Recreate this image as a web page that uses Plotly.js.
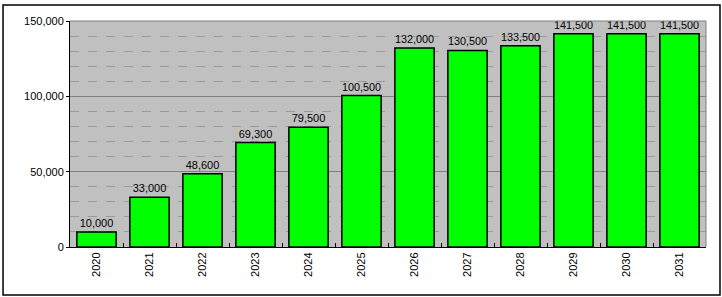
<!DOCTYPE html>
<html><head><meta charset="utf-8">
<script src="https://cdn.plot.ly/plotly-3.0.1.min.js"></script>
<style>html,body{margin:0;padding:0;background:#fff}#chart{width:722px;height:297px}</style>
</head><body><div id="chart"></div>
<script>
const years = ['2020','2021','2022','2023','2024','2025','2026','2027','2028','2029','2030','2031'];
const values = [10000, 33000, 48600, 69300, 79500, 100500, 132000, 130500, 133500, 141500, 141500, 141500];
const yTickVals = [0, 50000, 100000, 150000];
const yTickText = ['0', '50,000', '100,000', '150,000'];

const fontFam = 'Liberation Sans, Arial, sans-serif';
const trace = {
  type: 'bar', x: years, y: values,
  marker: {color: '#00ff00', line: {color: '#000', width: 1.5}},
  text: values.map(v => v.toLocaleString('en-US')),
  textposition: 'outside', cliponaxis: false,
  textfont: {family: fontFam, size: 11, color: '#000'},
  hoverinfo: 'none'
};
const layout = {
  width: 722, height: 297,
  margin: {l: 70, r: 16, t: 21, b: 50},
  paper_bgcolor: '#fff', plot_bgcolor: '#c0c0c0',
  showlegend: false, bargap: 0.26,
  font: {family: fontFam, size: 11, color: '#000'},
  xaxis: {
    type: 'category', tickangle: -90,
    showline: true, linecolor: '#000', linewidth: 1,
    ticks: 'inside', tickson: 'boundaries', ticklen: 4, tickcolor: '#000',
    showgrid: false, tickfont: {family: fontFam, size: 11}
  },
  yaxis: {
    range: [0, 150000], tickmode: 'array', tickvals: yTickVals, ticktext: yTickText,
    showline: true, linecolor: '#000', linewidth: 1,
    ticks: 'outside', ticklen: 3, tickcolor: '#000',
    showgrid: true, gridcolor: '#808080', gridwidth: 1,
    zeroline: false,
    minor: {dtick: 10000, tick0: 0, showgrid: true, gridcolor: '#999999', griddash: 'dash', gridwidth: 1, ticks: ''},
    tickfont: {family: fontFam, size: 11}
  },
  shapes: [
    {type: 'line', xref: 'paper', yref: 'paper', x0: 1, x1: 1, y0: 0, y1: 1, line: {color: '#808080', width: 1}},
    {type: 'line', xref: 'paper', yref: 'paper', x0: 0, x1: 1, y0: 1, y1: 1, line: {color: '#808080', width: 1}},
    {type: 'rect', xref: 'paper', yref: 'paper', x0: -0.1053, x1: 1.022, y0: -0.2124, y1: 1.0708, line: {color: '#000', width: 1.5}, fillcolor: 'rgba(0,0,0,0)'}
  ]
};
Plotly.newPlot('chart', [trace], layout, {staticPlot: true, displayModeBar: false});
</script></body></html>
